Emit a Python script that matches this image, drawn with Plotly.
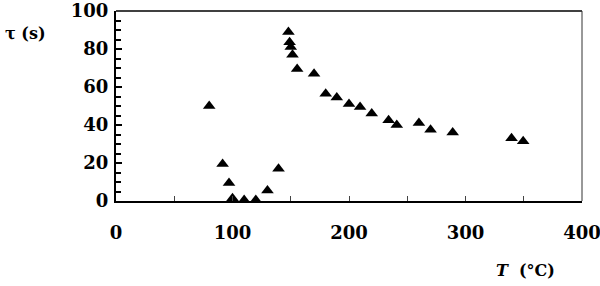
import plotly.graph_objects as go

T_vals = [80, 91.5, 97, 100, 110, 120, 130, 139.5, 148, 149, 150, 151.5, 155.5, 170, 180, 189.5, 200, 209.5, 219.5, 234, 241, 260, 270, 289, 339.5, 349.5]
tau_vals = [50, 19.5, 9.5, 1.5, 0.5, 0.5, 5.5, 17, 89, 83.5, 81, 77, 69.5, 67, 56.5, 54.5, 51, 49.5, 46, 42.5, 40, 41, 37.5, 36, 33, 31.5]

x_ticks = [0, 100, 200, 300, 400]
y_ticks = [0, 20, 40, 60, 80, 100]

W, H = 600, 286
L, R, Tm, B = 116, 18, 11, 85

fig = go.Figure()
fig.add_trace(go.Scatter(
    x=T_vals, y=tau_vals, mode="markers",
    marker=dict(symbol="triangle-up", size=11, color="black", line=dict(width=0)),
    showlegend=False, cliponaxis=False,
))

font = dict(family="DejaVu Serif", size=18, color="black", weight="bold")
lab_font = dict(family="DejaVu Serif", size=16, color="black", weight="bold")

fig.update_layout(
    width=W, height=H,
    margin=dict(l=L, r=R, t=Tm, b=B, autoexpand=False),
    paper_bgcolor="white", plot_bgcolor="white",
    font=font,
    xaxis=dict(
        range=[0, 400], tickvals=x_ticks,
        tickfont=font, ticklabeloverflow="allow",
        showgrid=False, zeroline=False, automargin=False,
        showline=True, linecolor="black", linewidth=2,
        ticks="inside", ticklen=5, tickwidth=1, tickcolor="#444",
        minor=dict(dtick=50, ticks="inside", ticklen=5, tickwidth=1, tickcolor="#444"),
        ticklabelstandoff=14,
    ),
    yaxis=dict(
        range=[0, 100], tickvals=y_ticks,
        tickfont=font, ticklabeloverflow="allow",
        showgrid=False, zeroline=False, automargin=False,
        showline=True, linecolor="black", linewidth=2,
        ticks="inside", ticklen=6, tickwidth=2, tickcolor="black",
        minor=dict(dtick=5, ticks="inside", ticklen=5, tickwidth=1.5, tickcolor="black"),
        ticklabelstandoff=2,
    ),
    shapes=[
        dict(type="line", xref="paper", yref="paper", x0=0, x1=1, y0=1, y1=1,
             line=dict(color="black", width=1.5)),
        dict(type="line", xref="paper", yref="paper", x0=1, x1=1, y0=0, y1=1,
             line=dict(color="#333", width=1)),
    ],
    annotations=[
        dict(text="τ (s)", xref="paper", yref="paper",
             x=(3 - L) / (W - L - R), y=1 - (33 - Tm) / (H - Tm - B),
             xanchor="left", yanchor="middle", showarrow=False, font=lab_font),
        dict(text="<i>T</i>  (°C)", xref="paper", yref="paper",
             x=(525 - L) / (W - L - R), y=-(270 - (H - B)) / (H - Tm - B),
             xanchor="center", yanchor="middle", showarrow=False, font=lab_font),
    ],
)

fig.write_html("out.html")
